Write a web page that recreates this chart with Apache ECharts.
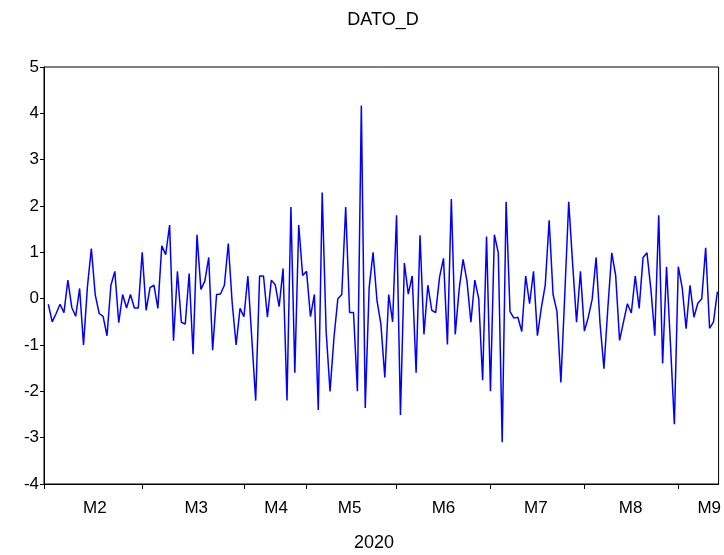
<!DOCTYPE html>
<html><head><meta charset="utf-8">
<script src="https://cdn.jsdelivr.net/npm/echarts@6/dist/echarts.min.js"></script>
<style>html,body{margin:0;padding:0;background:#fff}#c{width:724px;height:555px}</style>
</head><body><div id="c"></div>
<script>
const title = 'DATO_D';
const yearLabel = '2020';
const values = [
-0.12,-0.5,-0.32,-0.12,-0.3,0.4,-0.19,-0.38,0.22,-1.0,
0.26,1.08,0.08,-0.32,-0.38,-0.8,0.29,0.59,-0.52,0.09,
-0.2,0.09,-0.2,-0.2,1.0,-0.25,0.24,0.29,-0.21,1.14,
0.95,1.59,-0.91,0.59,-0.51,-0.55,0.54,-1.2,1.38,0.2,
0.38,0.89,-1.11,0.09,0.1,0.29,1.19,-0.1,-1.0,-0.21,
-0.39,0.49,-0.85,-2.2,0.49,0.49,-0.4,0.4,0.3,-0.17,
0.65,-2.2,1.98,-1.6,1.59,0.5,0.59,-0.39,0.09,-2.4,
2.29,-0.7,-2.0,-0.85,0.0,0.09,1.98,-0.3,-0.3,-2.0,
4.17,-2.36,0.24,1.0,-0.04,-0.55,-1.7,0.09,-0.5,1.8,
-2.51,0.77,0.1,0.49,-1.6,1.37,-0.77,0.29,-0.25,-0.3,
0.47,0.87,-0.99,2.15,-0.77,0.2,0.85,0.38,-0.51,0.4,
0.0,-1.76,1.34,-2.0,1.38,0.99,-3.1,2.09,-0.28,-0.42,
-0.4,-0.71,0.49,-0.11,0.59,-0.8,-0.2,0.29,1.69,0.09,
-0.28,-1.81,0.1,2.09,0.75,-0.51,0.59,-0.7,-0.4,-0.01,
0.89,-0.53,-1.51,-0.2,0.99,0.5,-0.9,-0.5,-0.11,-0.31,
0.49,-0.21,0.89,0.99,0.2,-0.8,1.8,-1.4,0.69,-0.98,
-2.71,0.69,0.24,-0.65,0.29,-0.4,-0.1,0.0,1.1,-0.64,
-0.5,0.15
];
const monthLabels = ['M2','M3','M4','M5','M6','M7','M8','M9'];
const monthStart = [0,24,50,66,89,113,137,161];
const labelAt = [11.9,37.8,58.2,77,101,124.6,148.8,168.9];
const yTicks = [-4,-3,-2,-1,0,1,2,3,4,5];

const xMin = -1.1, xMax = 171.3;
const data = values.map((v,i)=>[i,v]);
const tickVals = monthStart.map(i => i === 0 ? xMin : i);
const FONT = 'Liberation Sans, Arial, sans-serif';

const chart = echarts.init(document.getElementById('c'), null, {renderer:'canvas'});
chart.setOption({
  animation:false,
  backgroundColor:'#fff',
  grid:{left:44,right:4,top:67,bottom:71,show:true,borderColor:'#000',borderWidth:1,backgroundColor:'transparent'},
  xAxis:[{
    type:'value',min:xMin,max:xMax,position:'bottom',
    axisLine:{show:true,onZero:false,lineStyle:{color:'#000',width:1}},
    axisTick:{show:true,inside:false,length:5,customValues:tickVals,lineStyle:{color:'#000'}},
    axisLabel:{show:false},
    splitLine:{show:false}
  },{
    type:'value',min:xMin,max:xMax,position:'bottom',
    axisLine:{show:false},axisTick:{show:false},splitLine:{show:false},
    axisLabel:{show:true,customValues:labelAt,margin:16,color:'#000',fontSize:17,fontFamily:FONT,
      formatter:function(v){const k=labelAt.indexOf(v);return k>=0?monthLabels[k]:'';}}
  }],
  yAxis:{
    type:'value',min:yTicks[0],max:yTicks[yTicks.length-1],interval:1,
    axisLine:{show:true,onZero:false,lineStyle:{color:'#000',width:1}},
    axisTick:{show:true,inside:false,length:4,lineStyle:{color:'#000'}},
    axisLabel:{color:'#000',fontSize:17,fontFamily:FONT,margin:5},
    splitLine:{show:false}
  },
  series:[{type:'line',xAxisIndex:0,data:data,showSymbol:false,symbol:'none',
    lineStyle:{color:'#0000ff',width:1.5},clip:false}],
  graphic:[
    {type:'text',x:383,y:20,style:{text:title,fill:'#000',font:'18px '+FONT,textAlign:'center',textVerticalAlign:'middle'}},
    {type:'text',x:374,y:543,style:{text:yearLabel,fill:'#000',font:'18px '+FONT,textAlign:'center',textVerticalAlign:'middle'}}
  ]
});
</script></body></html>
